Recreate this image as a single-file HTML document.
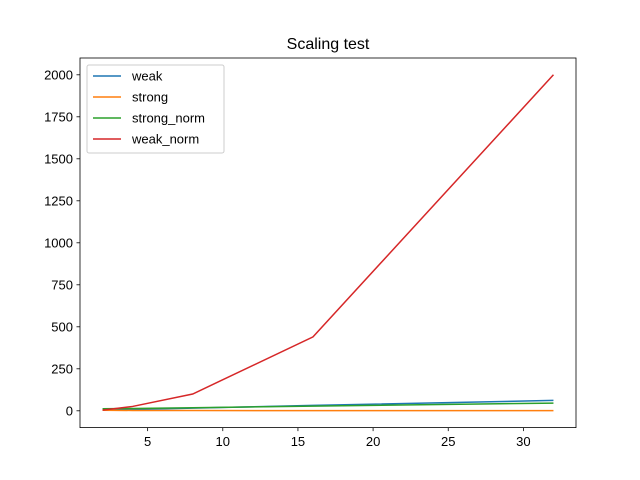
<!DOCTYPE html>
<html><head><meta charset="utf-8"><style>body{margin:0;background:#fff}svg{display:block;font-family:"Liberation Sans","DejaVu Sans",sans-serif}</style></head>
<body>
<svg id="chart" width="640" height="480">
<rect x="0" y="0" width="640" height="480" fill="#fff"/>
<text x="328" y="49" font-size="16" text-anchor="middle">Scaling test</text>
<g id="grid"></g>
<g id="series"></g>
<rect x="80" y="58" width="496" height="369.6" fill="none" stroke="#000" stroke-width="0.8"/>
<g id="legend"></g>
</svg>
<script>
const xs=[2,4,8,16,32];
const weak=[4,8,16,32,62];
const strong=[3,2,1.5,1,1];
const strongNorm=[12,14,18,28,46];
const weakNorm=[4,26,100,440,2000];
const xTicks=[5,10,15,20,25,30];
const yTicks=[0,250,500,750,1000,1250,1500,1750,2000];
const names=["weak","strong","strong_norm","weak_norm"];
const colors=["#1f77b4","#ff7f0e","#2ca02c","#d62728"];
const ns="http://www.w3.org/2000/svg";
const X=v=>80+(v-0.5)*(496/33);
const Y=v=>427.6-(v+100)*(369.6/2200);
const svg=document.getElementById('chart');
const grid=document.getElementById('grid');
function mk(t,a,p){const e=document.createElementNS(ns,t);for(const k in a)e.setAttribute(k,a[k]);(p||svg).appendChild(e);return e;}
xTicks.forEach(v=>{
 const l=mk('line',{x1:X(v),x2:X(v),y1:427.6,y2:431.1,stroke:'#000','stroke-width':0.8},grid);
 
 
 const t=mk('text',{x:X(v),y:446,'font-size':13,'text-anchor':'middle'},grid);t.textContent=v;
 
 
});
yTicks.forEach(v=>{
 const l=mk('line',{x1:76.5,x2:80,y1:Y(v),y2:Y(v),stroke:'#000','stroke-width':0.8},grid);
 
 
 const t=mk('text',{x:73,y:Y(v)+4.5,'font-size':13,'text-anchor':'end'},grid);t.textContent=v;
 
 
});
const data=[weak,strong,strongNorm,weakNorm];
const sg=document.getElementById('series');
data.forEach((s,i)=>{
 const p=mk('polyline',{points:xs.map((x,j)=>X(x)+','+Y(s[j])).join(' '),fill:'none',stroke:colors[i],'stroke-width':1.5},sg);
 
 
});
const lg=document.getElementById('legend');
const box=mk('rect',{x:87,y:65,width:137,height:88,rx:2,fill:'#fff','fill-opacity':0.8,stroke:'#ccc'},lg);


names.forEach((n,i)=>{
 const y=76+i*21;
 const l=mk('line',{x1:93,x2:121,y1:y,y2:y,stroke:colors[i],'stroke-width':1.5},lg);
 
 
 const t=mk('text',{x:132,y:y+4.5,'font-size':13},lg);t.textContent=n;
 
 
});
</script>
</body></html>
